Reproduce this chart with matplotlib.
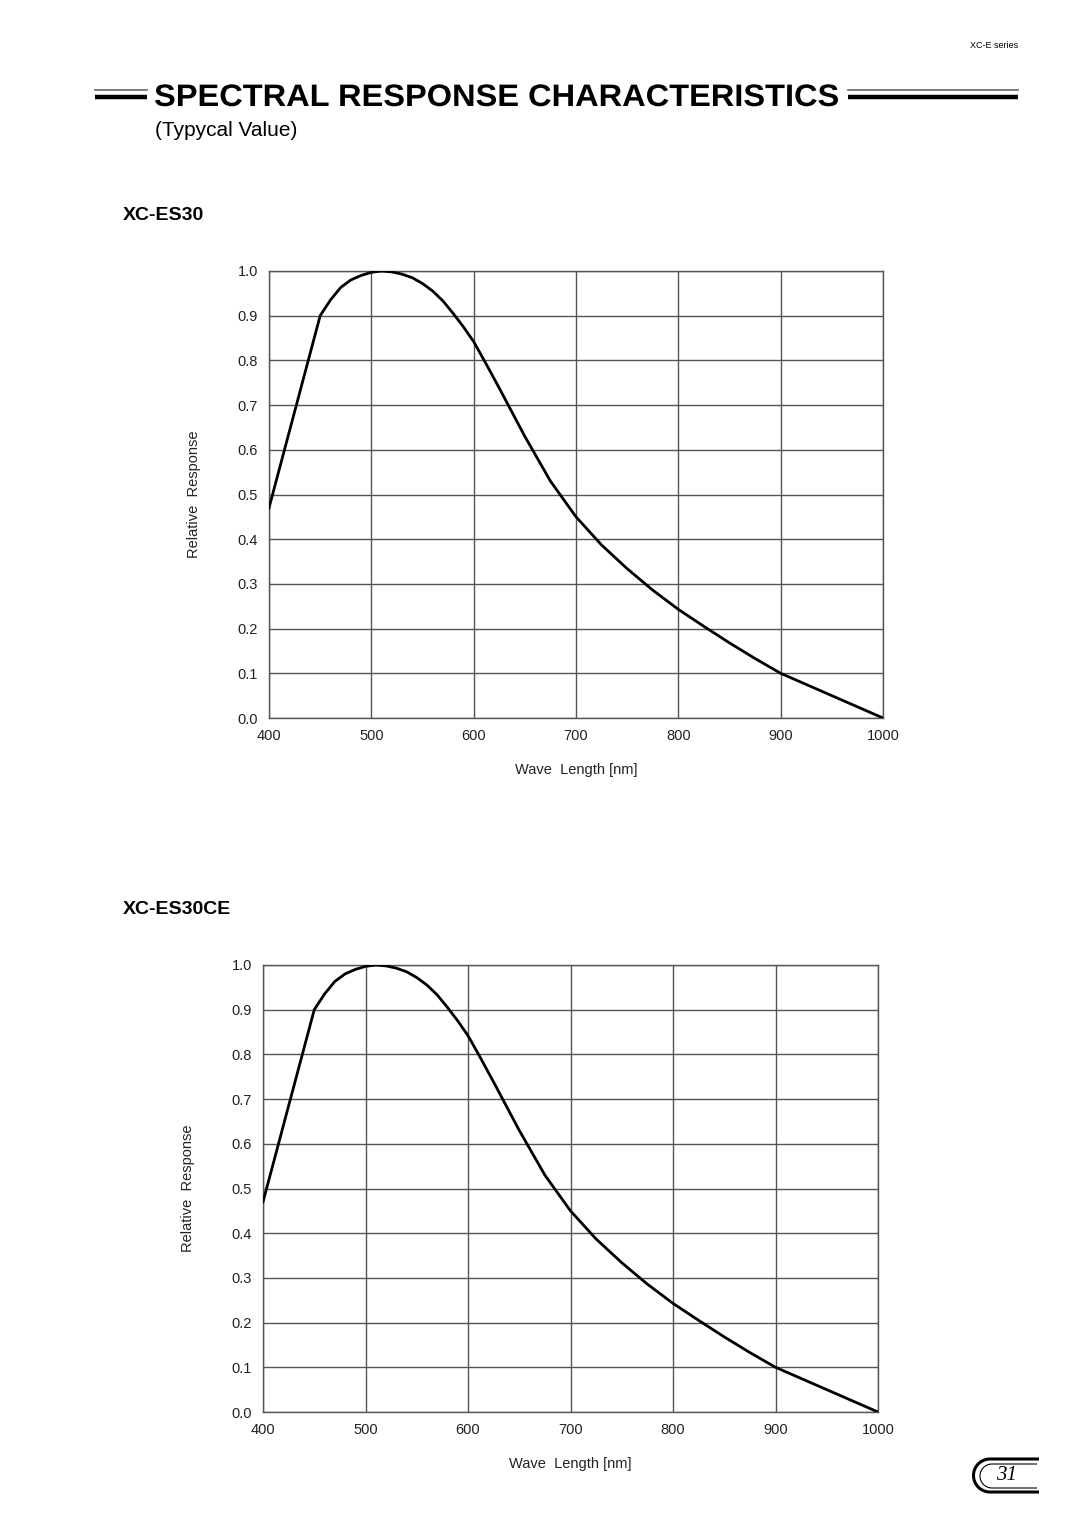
import matplotlib

matplotlib.use("Agg")
import matplotlib.pyplot as plt
from matplotlib.path import Path
from matplotlib.patches import PathPatch
from matplotlib.textpath import TextPath
from matplotlib.font_manager import FontProperties
from matplotlib.transforms import Affine2D
import numpy as np

# (wave length in nm, relative response)
wavelength = [400, 450, 460, 470, 480, 490, 500, 510, 520, 530, 540, 550, 560,
              570, 580, 590, 600, 612, 625, 650, 675, 700, 725, 750, 775, 800,
              825, 850, 875, 900, 925, 950, 975, 1000]
resp_es30 = [0.47, 0.90, 0.935, 0.963, 0.98, 0.99, 0.997, 1.0, 0.998, 0.993,
             0.985, 0.972, 0.955, 0.933, 0.905, 0.875, 0.842, 0.793, 0.738,
             0.630, 0.530, 0.45, 0.387, 0.334, 0.286, 0.243, 0.205, 0.168,
             0.133, 0.10, 0.075, 0.05, 0.025, 0.0]
resp_es30ce = [0.47, 0.90, 0.935, 0.963, 0.98, 0.99, 0.997, 1.0, 0.998, 0.993,
               0.985, 0.972, 0.955, 0.933, 0.905, 0.875, 0.842, 0.793, 0.738,
               0.630, 0.530, 0.45, 0.387, 0.334, 0.286, 0.243, 0.205, 0.168,
               0.133, 0.10, 0.075, 0.05, 0.025, 0.0]
x_ticks = [400, 500, 600, 700, 800, 900, 1000]
y_ticks = [0.0, 0.1, 0.2, 0.3, 0.4, 0.5, 0.6, 0.7, 0.8, 0.9, 1.0]

W, H = 1080, 1528
FONT = "Liberation Sans"
GRID = "#555555"

fig = plt.figure(figsize=(W / 100, H / 100), dpi=100)

# page overlay in pixel coordinates for headings and decorations
page = fig.add_axes([0, 0, 1, 1])
page.set_xlim(0, W)
page.set_ylim(H, 0)
page.axis("off")


def chart(left, top, right, bottom, resp, name):
    ax = fig.add_axes([left / W, 1 - bottom / H, (right - left) / W, (bottom - top) / H])
    ax.plot(wavelength, resp, color="black", lw=2.0, solid_joinstyle="round", zorder=3)
    ax.set_xlim(400, 1000)
    ax.set_ylim(0, 1.0)
    ax.set_xticks(x_ticks)
    ax.set_yticks(y_ticks)
    ax.set_yticklabels([f"{v:.1f}" for v in y_ticks])
    ax.tick_params(length=0, labelsize=10.5, pad=8, colors="#222222")
    for lab in ax.get_xticklabels() + ax.get_yticklabels():
        lab.set_family(FONT)
    ax.grid(True, color=GRID, lw=1.0)
    for s in ax.spines.values():
        s.set_color(GRID)
        s.set_linewidth(1.0)
    ax.set_xlabel("Wave  Length [nm]", family=FONT, fontsize=10.5, labelpad=14, color="#222222")
    ax.set_ylabel("Relative  Response", family=FONT, fontsize=10.5, labelpad=26, color="#222222")
    page.text(123, top - 56, name, family=FONT, fontsize=14, fontweight="bold", va="center")
    return ax


chart(269, 271, 883, 718, resp_es30, "XC-ES30")
chart(263, 965, 878, 1412, resp_es30ce, "XC-ES30CE")

# header
page.text(1018, 45, "XC-E series", family=FONT, fontsize=6.5, ha="right", va="center")

# condensed bold title: squeeze the glyph outlines to the printed width
tp = TextPath((0, 0), "SPECTRAL RESPONSE CHARACTERISTICS", size=1,
              prop=FontProperties(family=FONT, weight="bold"))
ext = tp.get_extents()
sx = (838 - 155) / ext.width
sy = 22 / ext.height
tr = Affine2D().translate(-ext.x0, 0).scale(sx, -sy).translate(155, 106)
page.add_patch(PathPatch(tr.transform_path(tp), color="black", lw=0))

page.text(155, 131, "(Typycal Value)", family=FONT, fontsize=15, va="center")
for x0, x1 in [(95, 147), (848, 1018)]:
    page.plot([x0, x1], [90, 90], color="#666666", lw=1.2)
    page.plot([x0, x1], [96.5, 96.5], color="black", lw=3.2, solid_capstyle="butt")


# page number tab
def tab(x_right, x_arc, top, bot, lw):
    r = (bot - top) / 2
    cy = top + r
    t = np.linspace(np.pi / 2, 3 * np.pi / 2, 30)
    verts = [(x_right, top)] + [(x_arc + r * np.cos(a), cy - r * np.sin(a)) for a in t] + [(x_right, bot)]
    page.add_patch(PathPatch(Path(verts), fill=False, lw=lw, color="black"))


tab(1039, 990, 1459, 1492, 2.2)
tab(1037, 992, 1464, 1488, 0.8)
page.text(1007, 1476, "31", family="Liberation Serif", style="italic", fontsize=15,
          ha="center", va="center")

fig.savefig("out.png", dpi=100)
